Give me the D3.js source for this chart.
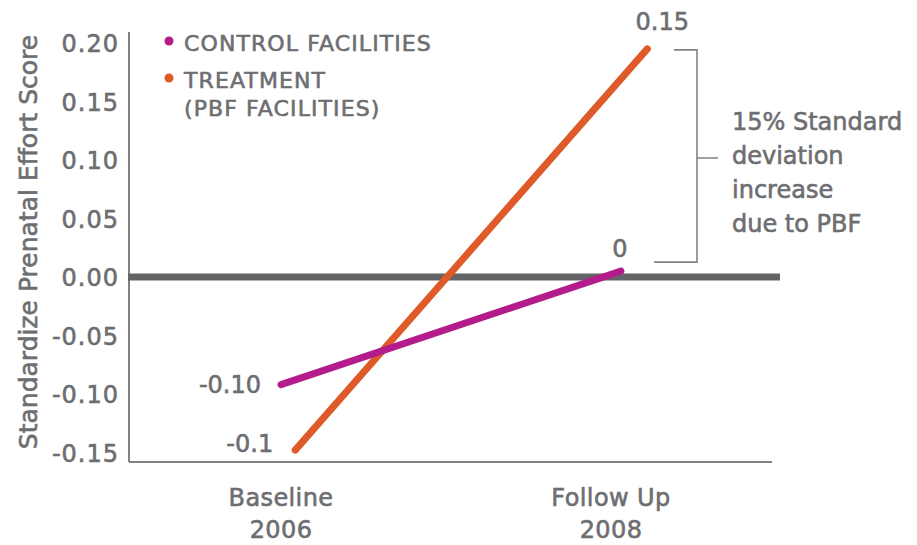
<!DOCTYPE html>
<html>
<head>
<meta charset="utf-8">
<script src="https://cdn.jsdelivr.net/npm/d3@7"></script>
<style>
  html, body { margin: 0; padding: 0; background: #fff; }
  svg { display: block; }
  text {
    font-family: "DejaVu Sans", sans-serif; fill: #6d6e71; font-weight: normal;
    stroke: #6d6e71; stroke-width: 0.6px; paint-order: stroke;
  }
</style>
</head>
<body>
<svg id="chart" width="917" height="545"></svg>
<script>
// Periods on the x axis (0 = baseline, 1 = follow-up)
const periods = ["Baseline", "Follow Up"];
const periodYears = ["2006", "2008"];

// Series: x position (in period units) and standardized score
const controlX = [0.0, 1.03];
const controlY = [-0.092, 0.005];
const treatmentX = [0.043, 1.11];
const treatmentY = [-0.148, 0.195];

// Value labels printed beside the line ends
const controlLabels = ["-0.10", "0"];
const treatmentLabels = ["-0.1", "0.15"];

// Y axis ticks
const yTicks = [0.20, 0.15, 0.10, 0.05, 0.00, -0.05, -0.10, -0.15];

const legendItems = [
  { lines: ["CONTROL FACILITIES"], color: "#b41c8b" },
  { lines: ["TREATMENT", "(PBF FACILITIES)"], color: "#de5a29" }
];
const bracketNote = ["15% Standard", "deviation", "increase", "due to PBF"];

const svg = d3.select("#chart");

const plotLeft = 129, plotRight = 772, plotTop = 32, plotBottom = 462;

const y = d3.scaleLinear().domain([-0.15, 0.20]).range([452.5, 43]);
const x = d3.scaleLinear().domain([0, 1]).range([281, 611]);

// Tick labels use a plain hyphen for negatives
const fmt = d => d3.format(".2f")(Math.abs(d) < 1e-9 ? 0 : d).replace("\u2212", "-");

// Left axis: labels only, the axis line is drawn separately
const yAxis = d3.axisLeft(y).tickValues(yTicks).tickSize(0).tickPadding(10).tickFormat(fmt);
const gy = svg.append("g").attr("transform", `translate(${plotLeft},0)`).call(yAxis);
gy.select(".domain").remove();
gy.selectAll("text")
  .attr("font-family", null)
  .style("font-size", "24px")
  .style("letter-spacing", "1px")
  .attr("fill", "#6d6e71")
  .attr("dy", "0.36em");

svg.append("line")
  .attr("x1", plotLeft).attr("x2", plotLeft)
  .attr("y1", plotTop).attr("y2", plotBottom)
  .attr("stroke", "#808285").attr("stroke-width", 2);

// Bottom axis line
svg.append("line")
  .attr("x1", plotLeft).attr("x2", plotRight)
  .attr("y1", plotBottom).attr("y2", plotBottom)
  .attr("stroke", "#808285").attr("stroke-width", 2);

// Zero reference line
svg.append("line")
  .attr("x1", plotLeft - 1).attr("x2", 780)
  .attr("y1", y(0)).attr("y2", y(0))
  .attr("stroke", "#636466").attr("stroke-width", 7);

// Y axis title
svg.append("text")
  .attr("transform", `translate(37,242) rotate(-90)`)
  .attr("text-anchor", "middle")
  .style("font-size", "25px")
  .text("Standardize Prenatal Effort Score");

// Period labels
periods.forEach((p, i) => {
  const t = svg.append("text")
    .attr("x", x(i)).attr("y", 506)
    .attr("text-anchor", "middle")
    .style("font-size", "24px")
    .style("letter-spacing", "0.4px");
  t.append("tspan").attr("x", x(i)).text(p);
  t.append("tspan").attr("x", x(i)).attr("dy", 32).text(periodYears[i]);
});

// Lines
const line = d3.line().x(d => x(d[0])).y(d => y(d[1]));
const treatmentPts = treatmentX.map((v, i) => [v, treatmentY[i]]);
const controlPts = controlX.map((v, i) => [v, controlY[i]]);

svg.append("path").datum(treatmentPts).attr("d", line)
  .attr("fill", "none").attr("stroke", legendItems[1].color)
  .attr("stroke-width", 7).attr("stroke-linecap", "round");
svg.append("path").datum(controlPts).attr("d", line)
  .attr("fill", "none").attr("stroke", legendItems[0].color)
  .attr("stroke-width", 7).attr("stroke-linecap", "round");

// End labels
svg.append("text").attr("x", x(controlX[0]) - 20).attr("y", y(controlY[0]))
  .attr("dy", "0.36em").attr("text-anchor", "end").style("font-size", "24px")
  .text(controlLabels[0]);
svg.append("text").attr("x", x(treatmentX[0]) - 22).attr("y", y(treatmentY[0]) - 7)
  .attr("dy", "0.36em").attr("text-anchor", "end").style("font-size", "24px")
  .text(treatmentLabels[0]);
svg.append("text").attr("x", x(controlX[1]) - 1).attr("y", y(controlY[1]) - 23)
  .attr("dy", "0.36em").attr("text-anchor", "middle").style("font-size", "24px")
  .text(controlLabels[1]);
svg.append("text").attr("x", x(treatmentX[1]) + 15).attr("y", y(treatmentY[1]) - 27)
  .attr("dy", "0.36em").attr("text-anchor", "middle").style("font-size", "24px")
  .text(treatmentLabels[1]);

// Legend
let ly = 41;
legendItems.forEach(item => {
  svg.append("circle").attr("cx", 169).attr("cy", ly).attr("r", 4.5).attr("fill", item.color);
  item.lines.forEach((l, j) => {
    svg.append("text").attr("x", 184).attr("y", ly + 10 + j * 28)
      .style("font-size", "22px").style("letter-spacing", "1.1px").text(l);
  });
  ly += 37;
});

// Bracket spanning the treatment gain
const bx = 697;
const bTop = y(treatmentY[1]) + 1, bBot = y(controlY[1]) - 9;
svg.append("path")
  .attr("d", `M674,${bTop}H${bx}V${bBot}H654M${bx},${(bTop + bBot) / 2 + 2}H718`)
  .attr("fill", "none").attr("stroke", "#808285").attr("stroke-width", 1.6);

const note = svg.append("text").style("font-size", "24px");
bracketNote.forEach((l, i) => {
  note.append("tspan").attr("x", 732).attr("y", 130 + i * 34).text(l);
});
</script>
</body>
</html>
